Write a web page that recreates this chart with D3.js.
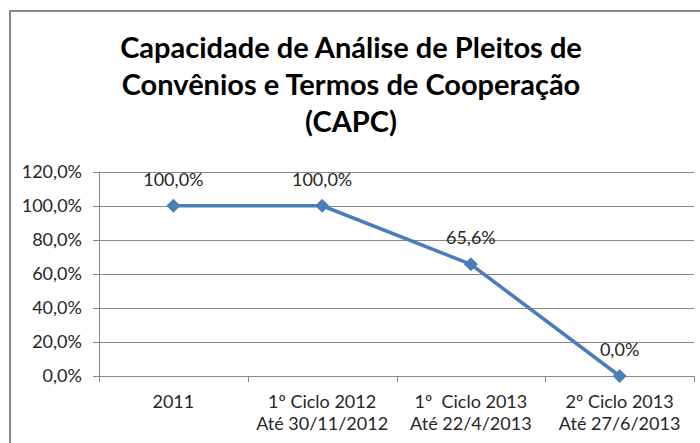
<!DOCTYPE html>
<html>
<head>
<meta charset="utf-8">
<script src="https://cdn.jsdelivr.net/npm/d3@7"></script>
<style>
  html, body { margin: 0; padding: 0; background: #fff; }
  svg { display: block; font-family: Lato, "Open Sans", sans-serif; }
</style>
</head>
<body>
<div id="chart"></div>
<script>
const titleLines = ["Capacidade de Análise de Pleitos de", "Convênios e Termos de Cooperação", "(CAPC)"];
const categories = [
  ["2011"],
  ["1º Ciclo 2012", "Até 30/11/2012"],
  ["1º  Ciclo 2013", "Até 22/4/2013"],
  ["2º Ciclo 2013", "Até 27/6/2013"]
];
const values = [1.0, 1.0, 0.656, 0.0];
const yTicks = [0, 0.2, 0.4, 0.6, 0.8, 1.0, 1.2];

const width = 700, height = 443;
const margin = { left: 99, right: 6, top: 171.7, bottom: 67 };
const fmt = v => d3.format(".1f")(v * 100).replace(".", ",") + "%";

const svg = d3.select("#chart").append("svg")
  .attr("width", width).attr("height", height);

svg.append("rect").attr("width", width).attr("height", height).attr("fill", "#fff");
// frame, cut by the picture on the right and bottom
svg.append("rect")
  .attr("x", 10).attr("y", 11).attr("width", 720).attr("height", 460)
  .attr("fill", "#fff").attr("stroke", "#888").attr("stroke-width", 2);

const x = d3.scaleBand()
  .domain(d3.range(categories.length))
  .range([margin.left, width - margin.right]);
const y = d3.scaleLinear()
  .domain([0, 1.2])
  .range([height - margin.bottom, margin.top]);

// title
svg.append("g")
  .attr("text-anchor", "middle")
  .attr("font-weight", "bold")
  .attr("font-size", 29)
  .attr("fill", "#000")
  .selectAll("text").data(titleLines).join("text")
  .attr("x", 351)
  .attr("y", (d, i) => 58 + i * 37)
  .text(d => d);

// gridlines
svg.append("g")
  .attr("stroke", "#888")
  .selectAll("line").data(yTicks).join("line")
  .attr("x1", margin.left - 6).attr("x2", width - margin.right)
  .attr("y1", d => Math.round(y(d)) + 0.5).attr("y2", d => Math.round(y(d)) + 0.5);

// y axis line
svg.append("line")
  .attr("stroke", "#888")
  .attr("x1", margin.left + 0.5).attr("x2", margin.left + 0.5)
  .attr("y1", y(1.2)).attr("y2", y(0) + 6);

// x ticks
svg.append("g")
  .attr("stroke", "#888")
  .selectAll("line").data(d3.range(categories.length + 1)).join("line")
  .attr("x1", i => Math.round(margin.left + i * x.bandwidth()) + 0.5)
  .attr("x2", i => Math.round(margin.left + i * x.bandwidth()) + 0.5)
  .attr("y1", y(0)).attr("y2", y(0) + 6);

// y tick labels
svg.append("g")
  .attr("text-anchor", "end")
  .attr("font-size", 18)
  .attr("fill", "#262626")
  .selectAll("text").data(yTicks).join("text")
  .attr("x", 82)
  .attr("y", d => y(d) + 6)
  .text(fmt);

// x labels
const xl = svg.append("g")
  .attr("text-anchor", "middle")
  .attr("font-size", 18)
  .attr("fill", "#262626")
  .selectAll("text").data(categories).join("text")
  .attr("x", (d, i) => x(i) + x.bandwidth() / 2)
  .attr("y", 408);
xl.selectAll("tspan").data(d => d).join("tspan")
  .attr("x", function() { return this.parentNode.getAttribute("x"); })
  .attr("dy", (d, i) => i === 0 ? 0 : 22)
  .attr("xml:space", "preserve")
  .style("white-space", "pre")
  .text(d => d);

// line
const line = d3.line()
  .x((d, i) => x(i) + x.bandwidth() / 2)
  .y(d => y(d));
svg.append("path")
  .datum(values)
  .attr("fill", "none")
  .attr("stroke", "#4a7ebb")
  .attr("stroke-width", 3.5)
  .attr("stroke-linejoin", "round")
  .attr("d", line);

// markers
svg.append("g")
  .attr("fill", "#4a7ebb")
  .selectAll("path").data(values).join("path")
  .attr("transform", (d, i) => `translate(${x(i) + x.bandwidth() / 2},${y(d)})`)
  .attr("d", "M0,-7L7,0L0,7L-7,0Z");

// data labels
svg.append("g")
  .attr("text-anchor", "middle")
  .attr("font-size", 18)
  .attr("fill", "#262626")
  .selectAll("text").data(values).join("text")
  .attr("x", (d, i) => x(i) + x.bandwidth() / 2)
  .attr("y", d => y(d) - 20)
  .text(fmt);
</script>
</body>
</html>
